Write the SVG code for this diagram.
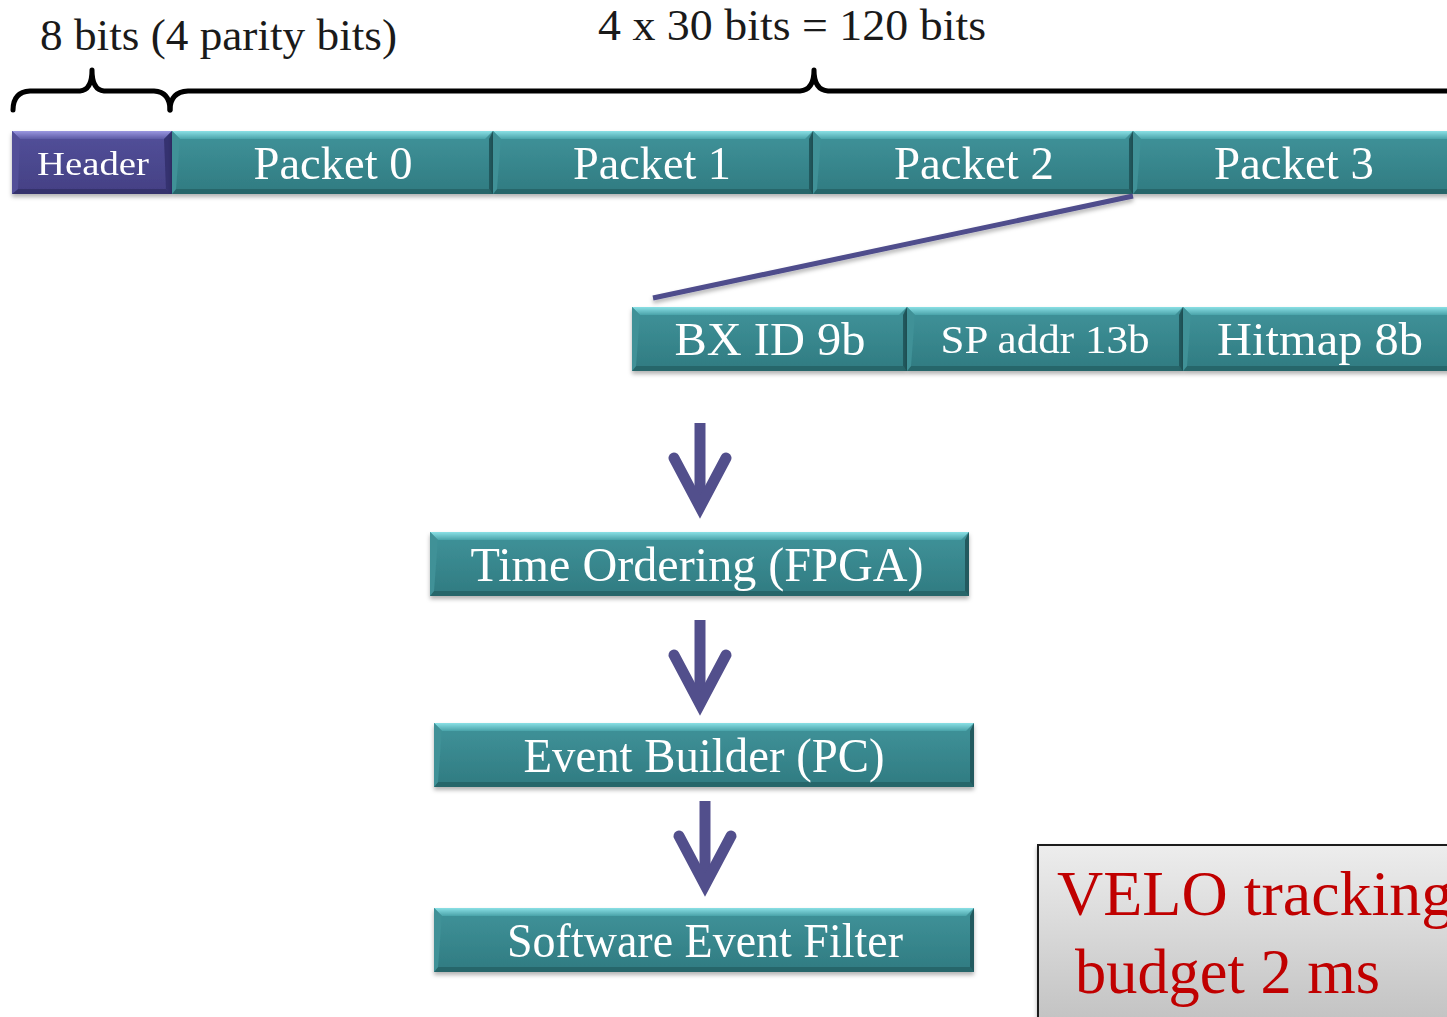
<svg xmlns="http://www.w3.org/2000/svg" width="1447" height="1017" viewBox="0 0 1447 1017">
  <defs>
    <linearGradient id="tealFace" x1="0" y1="0" x2="0" y2="1">
      <stop offset="0" stop-color="#40939a"/>
      <stop offset="1" stop-color="#307b81"/>
    </linearGradient>
    <linearGradient id="tealTop" x1="0" y1="0" x2="0" y2="1">
      <stop offset="0" stop-color="#8ae0e5"/>
      <stop offset="1" stop-color="#4aa3a9"/>
    </linearGradient>
    <linearGradient id="purpleFace" x1="0" y1="0" x2="0" y2="1">
      <stop offset="0" stop-color="#53509a"/>
      <stop offset="1" stop-color="#444084"/>
    </linearGradient>
    <linearGradient id="purpleTop" x1="0" y1="0" x2="0" y2="1">
      <stop offset="0" stop-color="#9a97e0"/>
      <stop offset="1" stop-color="#5d5aa5"/>
    </linearGradient>
    <linearGradient id="greyFace" x1="0" y1="0" x2="0" y2="1">
      <stop offset="0" stop-color="#ededed"/>
      <stop offset="1" stop-color="#bdbdbd"/>
    </linearGradient>
    <filter id="shadow" x="-5%" y="-20%" width="110%" height="150%">
      <feDropShadow dx="0" dy="3" stdDeviation="2" flood-color="#000" flood-opacity="0.3"/>
    </filter>
  </defs>
  <style>
    .face-t { fill: url(#tealFace); }
    .face-p { fill: url(#purpleFace); }
    .top-t { fill: url(#tealTop); }
    .bot-t { fill: #28666a; }
    .lft-t { fill: #3f9197; }
    .rgt-t { fill: #245a5e; }
    .top-p { fill: url(#purpleTop); }
    .bot-p { fill: #34316c; }
    .lft-p { fill: #524f98; }
    .rgt-p { fill: #35326f; }
    .lbl { font-family: "Liberation Serif", "Times New Roman", "DejaVu Serif", serif; fill: #ffffff; text-anchor: middle; }
    .note { font-family: "Liberation Serif", "Times New Roman", "DejaVu Serif", serif; fill: #1a1a1a; }
    .warn { font-family: "Liberation Serif", "Times New Roman", "DejaVu Serif", serif; fill: #c00000; }
    .brace { fill: none; stroke: #000; stroke-width: 5; stroke-linejoin: round; stroke-linecap: round; }
    .flow { fill: none; stroke: #524f8c; stroke-width: 11; }
  </style>

  <!-- size annotations -->
  <text class="note" x="40" y="50" font-size="44" textLength="357" lengthAdjust="spacingAndGlyphs">8 bits (4 parity bits)</text>
  <text class="note" x="598" y="40" font-size="44" textLength="388" lengthAdjust="spacingAndGlyphs">4 x 30 bits = 120 bits</text>

  <!-- braces over header and packets -->
  <g id="braces">
    <path class="brace" d="M13,110 Q13,92 30,91 L80,91 Q92,90 92,70 Q92,90 104,91 L154,91 Q170,92 170,110"/>
    <path class="brace" d="M170,110 Q170,92 188,91 L800,91 Q814,90 814,70 Q814,90 828,91 L1450,91"/>
  </g>

  <!-- frame: header + packets -->
  <g id="header" filter="url(#shadow)">
    <rect class="face-p" x="12" y="131" width="160" height="63"/>
    <polygon class="top-p" points="12,131 172,131 164,139 20,139"/>
    <polygon class="bot-p" points="12,194 172,194 166,189 18,189"/>
    <polygon class="lft-p" points="12,131 20,139 18,189 12,194"/>
    <polygon class="rgt-p" points="172,131 164,139 166,189 172,194"/>
    <text class="lbl" x="93" y="175" font-size="34" textLength="112" lengthAdjust="spacingAndGlyphs">Header</text>
  </g>
  <g id="packet0" filter="url(#shadow)">
    <rect class="face-t" x="172" y="131" width="321" height="63"/>
    <polygon class="top-t" points="172,131 493,131 485,139 180,139"/>
    <polygon class="bot-t" points="172,194 493,194 489,189 176,189"/>
    <polygon class="lft-t" points="172,131 180,139 176,189 172,194"/>
    <polygon class="rgt-t" points="493,131 489,139 489,189 493,194"/>
    <text class="lbl" x="333" y="179" font-size="46" textLength="159" lengthAdjust="spacingAndGlyphs">Packet 0</text>
  </g>
  <g id="packet1" filter="url(#shadow)">
    <rect class="face-t" x="493" y="131" width="320" height="63"/>
    <polygon class="top-t" points="493,131 813,131 805,139 501,139"/>
    <polygon class="bot-t" points="493,194 813,194 809,189 497,189"/>
    <polygon class="lft-t" points="493,131 501,139 497,189 493,194"/>
    <polygon class="rgt-t" points="813,131 809,139 809,189 813,194"/>
    <text class="lbl" x="652" y="179" font-size="46" textLength="158" lengthAdjust="spacingAndGlyphs">Packet 1</text>
  </g>
  <g id="packet2" filter="url(#shadow)">
    <rect class="face-t" x="813" y="131" width="320" height="63"/>
    <polygon class="top-t" points="813,131 1133,131 1125,139 821,139"/>
    <polygon class="bot-t" points="813,194 1133,194 1129,189 817,189"/>
    <polygon class="lft-t" points="813,131 821,139 817,189 813,194"/>
    <polygon class="rgt-t" points="1133,131 1129,139 1129,189 1133,194"/>
    <text class="lbl" x="974" y="179" font-size="46" textLength="160" lengthAdjust="spacingAndGlyphs">Packet 2</text>
  </g>
  <g id="packet3" filter="url(#shadow)">
    <rect class="face-t" x="1133" y="131" width="330" height="63"/>
    <polygon class="top-t" points="1133,131 1463,131 1455,139 1141,139"/>
    <polygon class="bot-t" points="1133,194 1463,194 1459,189 1137,189"/>
    <polygon class="lft-t" points="1133,131 1141,139 1137,189 1133,194"/>
    <text class="lbl" x="1294" y="179" font-size="46" textLength="160" lengthAdjust="spacingAndGlyphs">Packet 3</text>
  </g>

  <!-- packet fields -->
  <g id="bxid" filter="url(#shadow)">
    <rect class="face-t" x="632" y="307" width="275" height="64"/>
    <polygon class="top-t" points="632,307 907,307 899,315 640,315"/>
    <polygon class="bot-t" points="632,371 907,371 903,366 636,366"/>
    <polygon class="lft-t" points="632,307 640,315 636,366 632,371"/>
    <polygon class="rgt-t" points="907,307 903,315 903,366 907,371"/>
    <text class="lbl" x="770" y="355" font-size="46" textLength="191" lengthAdjust="spacingAndGlyphs">BX ID 9b</text>
  </g>
  <g id="spaddr" filter="url(#shadow)">
    <rect class="face-t" x="907" y="307" width="276" height="64"/>
    <polygon class="top-t" points="907,307 1183,307 1175,315 915,315"/>
    <polygon class="bot-t" points="907,371 1183,371 1179,366 911,366"/>
    <polygon class="lft-t" points="907,307 915,315 911,366 907,371"/>
    <polygon class="rgt-t" points="1183,307 1179,315 1179,366 1183,371"/>
    <text class="lbl" x="1045" y="353" font-size="40" textLength="209" lengthAdjust="spacingAndGlyphs">SP addr 13b</text>
  </g>
  <g id="hitmap" filter="url(#shadow)">
    <rect class="face-t" x="1183" y="307" width="280" height="64"/>
    <polygon class="top-t" points="1183,307 1463,307 1455,315 1191,315"/>
    <polygon class="bot-t" points="1183,371 1463,371 1459,366 1187,366"/>
    <polygon class="lft-t" points="1183,307 1191,315 1187,366 1183,371"/>
    <text class="lbl" x="1320" y="355" font-size="46" textLength="206" lengthAdjust="spacingAndGlyphs">Hitmap 8b</text>
  </g>

  <!-- processing chain -->
  <g id="timeordering" filter="url(#shadow)">
    <rect class="face-t" x="430" y="532" width="539" height="64"/>
    <polygon class="top-t" points="430,532 969,532 961,540 438,540"/>
    <polygon class="bot-t" points="430,596 969,596 965,591 434,591"/>
    <polygon class="lft-t" points="430,532 438,540 434,591 430,596"/>
    <polygon class="rgt-t" points="969,532 965,540 965,591 969,596"/>
    <text class="lbl" x="697" y="581" font-size="48" textLength="453" lengthAdjust="spacingAndGlyphs">Time Ordering (FPGA)</text>
  </g>
  <g id="eventbuilder" filter="url(#shadow)">
    <rect class="face-t" x="434" y="723" width="540" height="64"/>
    <polygon class="top-t" points="434,723 974,723 966,731 442,731"/>
    <polygon class="bot-t" points="434,787 974,787 970,782 438,782"/>
    <polygon class="lft-t" points="434,723 442,731 438,782 434,787"/>
    <polygon class="rgt-t" points="974,723 970,731 970,782 974,787"/>
    <text class="lbl" x="704" y="772" font-size="48" textLength="361" lengthAdjust="spacingAndGlyphs">Event Builder (PC)</text>
  </g>
  <g id="softwarefilter" filter="url(#shadow)">
    <rect class="face-t" x="434" y="908" width="540" height="64"/>
    <polygon class="top-t" points="434,908 974,908 966,916 442,916"/>
    <polygon class="bot-t" points="434,972 974,972 970,967 438,967"/>
    <polygon class="lft-t" points="434,908 442,916 438,967 434,972"/>
    <polygon class="rgt-t" points="974,908 970,916 970,967 974,972"/>
    <text class="lbl" x="705" y="957" font-size="48" textLength="396" lengthAdjust="spacingAndGlyphs">Software Event Filter</text>
  </g>

  <!-- time budget note -->
  <g id="velonote" filter="url(#shadow)">
    <rect x="1038" y="845" width="420" height="200" fill="url(#greyFace)" stroke="#1a1a1a" stroke-width="2"/>
    <text class="warn" x="1057" y="915" font-size="64">VELO tracking</text>
    <text class="warn" x="1075" y="993" font-size="64" textLength="305" lengthAdjust="spacingAndGlyphs">budget 2 ms</text>
  </g>

  <!-- connectors -->
  <g id="connectors">
    <line x1="1133" y1="196" x2="653" y2="298" stroke="#4f4d8c" stroke-width="5" filter="url(#shadow)"/>
    <g class="flow">
      <line x1="700" y1="423" x2="700" y2="500"/>
      <polyline points="674,458 700,507 726,458" stroke-linecap="round" stroke-linejoin="miter"/>
      <line x1="700" y1="620" x2="700" y2="697"/>
      <polyline points="674,655 700,704 726,655" stroke-linecap="round" stroke-linejoin="miter"/>
      <line x1="705" y1="801" x2="705" y2="878"/>
      <polyline points="679,836 705,885 731,836" stroke-linecap="round" stroke-linejoin="miter"/>
    </g>
  </g>
</svg>
